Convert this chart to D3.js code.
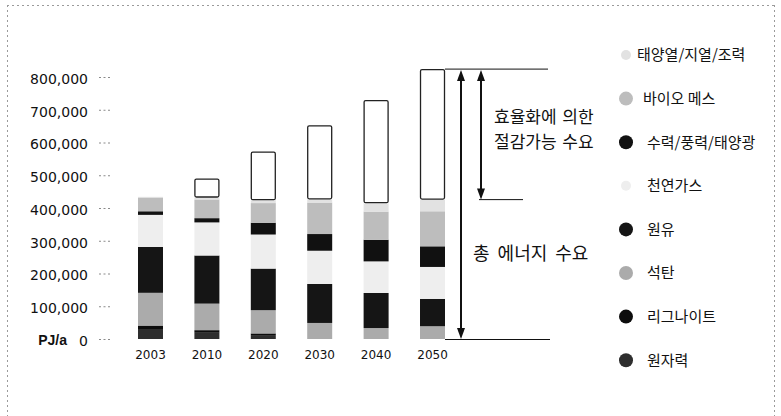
<!DOCTYPE html>
<html><head><meta charset="utf-8">
<script src="https://cdn.jsdelivr.net/npm/d3@7/dist/d3.min.js"></script>
<style>
html,body{margin:0;padding:0;background:#fff;}
svg{display:block;}
</style></head>
<body>
<svg id="c" width="781" height="416"></svg>
<script>
// ---- data (PJ/a) ----
const years = ["2003","2010","2020","2030","2040","2050"];
const nuclear      = [28000, 19000, 12000, 0, 0, 0];          // 원자력
const lignite      = [13000, 8000, 5000, 0, 0, 0];            // 리그나이트
const coal         = [100000, 81000, 71000, 49000, 33500, 39000]; // 석탄
const oil          = [140000, 147000, 127000, 119000, 107000, 83500]; // 원유
const gas          = [98000, 101000, 104000, 101500, 96500, 97500]; // 천연가스
const hydroWindPv  = [11000, 13000, 36000, 51000, 66000, 63000]; // 수력/풍력/태양광
const biomass      = [42000, 57000, 60000, 96000, 86000, 107000]; // 바이오 메스
const solarGeoTide = [2000, 6000, 9000, 10000, 25600, 35600];  // 태양열/지열/조력
const savings      = [0, 58000, 148000, 226000, 315000, 398500]; // 효율화에 의한 절감가능 수요
const yTicks = [0,100000,200000,300000,400000,500000,600000,700000,800000];
const legendLabels = ["태양열/지열/조력","바이오 메스","수력/풍력/태양광","천연가스","원유","석탄","리그나이트","원자력"];
const unitLabel = "PJ/a";
const annotSavings = ["효율화에 의한","절감가능 수요"];
const annotTotal = "총 에너지 수요";

// ---- build table ----
const keys = ["nuclear","lignite","coal","oil","gas","hydro","biomass","solar","savings"];
const seriesArr = [nuclear,lignite,coal,oil,gas,hydroWindPv,biomass,solarGeoTide,savings];
const table = years.map((yr,i)=>{
  const o={year:yr};
  keys.forEach((k,j)=>o[k]=seriesArr[j][i]);
  return o;
});
const colors = {
  nuclear:"#2e2e2e", lignite:"#0d0d0d", coal:"#ababab", oil:"#151515",
  gas:"#eeeeee", hydro:"#111111", biomass:"#bdbdbd", solar:"#e2e2e2", savings:"#ffffff"
};
const legendKeys = ["solar","biomass","hydro","gas","oil","coal","lignite","nuclear"];

const svg = d3.select("#c");

// frame (dashed)
const frame = svg.append("g").attr("stroke","#9a9a9a").attr("stroke-width",1).attr("stroke-dasharray","2,3").attr("fill","none");
frame.append("line").attr("x1",7).attr("x2",775).attr("y1",5.5).attr("y2",5.5);
frame.append("line").attr("x1",7.5).attr("x2",7.5).attr("y1",5).attr("y2",416);
frame.append("line").attr("x1",774.5).attr("x2",774.5).attr("y1",5).attr("y2",416);

// scales
const x = d3.scaleBand().domain(years).range([138,445]).paddingInner(0.557).paddingOuter(0);
const y = d3.scaleLinear().domain([0,800000]).range([339,77]);

// y axis
const yAxis = svg.append("g").attr("transform","translate(110,0)")
  .call(d3.axisLeft(y).tickValues(yTicks).tickSize(13).tickPadding(9)
    .tickFormat(d=>d3.format(",")(d)));
yAxis.select(".domain").remove();
yAxis.selectAll(".tick line").attr("stroke","#8a8a8a").attr("stroke-dasharray","2,2.5");
yAxis.selectAll(".tick text").attr("font-family","DejaVu Sans, sans-serif").attr("font-size",14).attr("fill","#111").attr("dy","0.45em");
svg.append("text").attr("x",67).attr("y",y(0)).attr("dy","0.45em").attr("text-anchor","end")
  .attr("font-family","Liberation Sans, Arial, sans-serif").attr("font-weight","bold").attr("font-size",14).attr("fill","#111").text(unitLabel);

// x axis
const xAxis = svg.append("g").attr("transform",`translate(0,${y(0)})`)
  .call(d3.axisBottom(x).tickSize(0).tickPadding(11.5));
xAxis.select(".domain").remove();
xAxis.selectAll(".tick text").attr("font-family","DejaVu Sans, sans-serif").attr("font-size",12).attr("fill","#111");

// stacked bars
const stack = d3.stack().keys(keys)(table);
const layers = svg.append("g").selectAll("g").data(stack).join("g")
  .attr("fill",d=>colors[d.key]);
layers.filter(d=>d.key!=="savings").selectAll("rect").data(d=>d).join("rect")
  .attr("x",d=>x(d.data.year)).attr("width",x.bandwidth())
  .attr("y",d=>y(d[1])).attr("height",d=>Math.max(0,y(d[0])-y(d[1])));
layers.filter(d=>d.key==="savings").selectAll("rect").data(d=>d.filter(e=>e[1]-e[0]>0)).join("rect")
  .attr("x",d=>x(d.data.year)+0.5).attr("width",x.bandwidth()-1)
  .attr("y",d=>y(d[1])+0.5).attr("height",d=>y(d[0])-y(d[1])-1)
  .attr("rx",1.5).attr("stroke","#222").attr("stroke-width",1.3);

// annotations
const last = table[table.length-1];
const total2050 = keys.reduce((s,k)=>s+last[k],0);
const supply2050 = total2050 - last.savings;
const barRight = x("2050")+x.bandwidth();
const ann = svg.append("g");
ann.append("line").attr("x1",barRight).attr("x2",548).attr("y1",y(total2050)).attr("y2",y(total2050)).attr("stroke","#111").attr("stroke-width",1);
ann.append("line").attr("x1",barRight).attr("x2",550).attr("y1",y(0)+0.5).attr("y2",y(0)+0.5).attr("stroke","#111").attr("stroke-width",1);
ann.append("line").attr("x1",479).attr("x2",523).attr("y1",y(supply2050)).attr("y2",y(supply2050)).attr("stroke","#111").attr("stroke-width",1);

function dblArrow(xp,y1,y2){
  ann.append("line").attr("x1",xp).attr("x2",xp).attr("y1",y1+6).attr("y2",y2-6).attr("stroke","#111").attr("stroke-width",2);
  ann.append("path").attr("d",`M${xp},${y1} L${xp-4},${y1+11} L${xp+4},${y1+11} Z`).attr("fill","#111");
  ann.append("path").attr("d",`M${xp},${y2} L${xp-4},${y2-11} L${xp+4},${y2-11} Z`).attr("fill","#111");
}
dblArrow(461, y(total2050)+1, y(0));
dblArrow(481, y(total2050)+1, y(supply2050));

const kfont = "'Noto Sans CJK KR', sans-serif";
ann.selectAll("text.s").data(annotSavings).join("text").attr("class","s")
  .attr("x",494).attr("y",(d,i)=>123+i*25)
  .attr("font-family",kfont).attr("font-size",17).attr("fill","#111").attr("word-spacing","2px").text(d=>d);
ann.append("text").attr("x",473).attr("y",260)
  .attr("font-family",kfont).attr("font-size",18).attr("fill","#111").attr("word-spacing","4px").text(annotTotal);

// legend
const lg = svg.append("g").selectAll("g").data(legendKeys).join("g")
  .attr("transform",(d,i)=>`translate(626,${55+i*43.6})`);
lg.append("circle").attr("r",(d)=> (d==="solar"||d==="gas")?5:7).attr("fill",d=>colors[d]);
lg.append("text").attr("x",(d,i)=> i===0?11:(i===1?17:21)).attr("dy","0.36em")
  .attr("font-family",kfont).attr("font-size",15).attr("fill","#111")
  .text((d,i)=>legendLabels[i]);
</script>
</body></html>
